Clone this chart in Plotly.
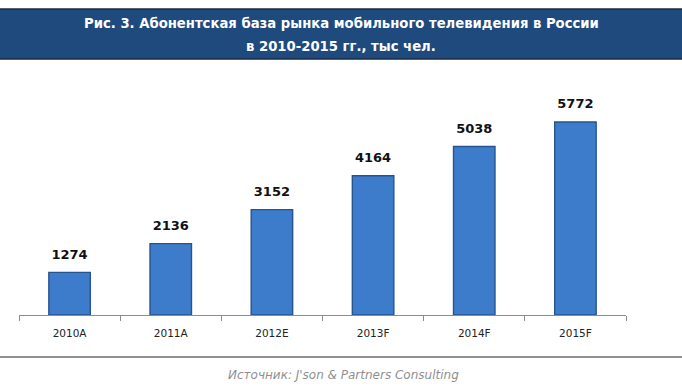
import plotly.graph_objects as go

categories = ["2010A", "2011A", "2012E", "2013F", "2014F", "2015F"]
values = [1274, 2136, 3152, 4164, 5038, 5772]
title_lines = ["Рис. 3. Абонентская база рынка мобильного телевидения в России",
               "в 2010-2015 гг., тыс чел."]
source_text = "Источник: J'son & Partners Consulting"

W, H = 682, 390
L, R, T, B = 19, 56, 100, 75
pw, ph = W - L - R, H - T - B

def px(x):
    return (x - L) / pw

def py(y):
    return (H - B - y) / ph

fig = go.Figure()
fig.add_trace(go.Bar(
    x=categories, y=values,
    marker=dict(color="#3D7CCB", line=dict(color="#25548F", width=1.4)),
    width=0.41, hoverinfo="skip",
))
fig.add_trace(go.Scatter(
    x=categories, y=values, mode="markers+text",
    marker=dict(size=15, opacity=0),
    text=[str(v) for v in values], textposition="top center",
    textfont=dict(family="DejaVu Sans", size=13, color="#111111", weight="bold"),
    cliponaxis=False, hoverinfo="skip",
))

shapes = [
    dict(type="rect", xref="paper", yref="paper", x0=px(0), x1=px(W), y0=py(59), y1=py(9),
         fillcolor="#1F4A7D", line=dict(width=0), layer="above"),
    dict(type="line", xref="paper", yref="paper", x0=px(0), x1=px(W), y0=py(9), y1=py(9),
         line=dict(color="#1a2b40", width=1.5)),
    dict(type="line", xref="paper", yref="paper", x0=px(0), x1=px(W), y0=py(59), y1=py(59),
         line=dict(color="#1a2b40", width=1.5)),
    dict(type="line", xref="paper", yref="paper", x0=px(0), x1=px(W), y0=py(357), y1=py(357),
         line=dict(color="#222222", width=1.2)),
]

title_font = dict(family="DejaVu Sans Condensed, Liberation Sans Narrow, Arial Narrow, sans-serif",
                  size=14.7, color="white")
annotations = [
    dict(xref="paper", yref="paper", x=px(341), y=py(22), text="<b>" + title_lines[0] + "</b>",
         showarrow=False, font=title_font, xanchor="center", yanchor="middle"),
    dict(xref="paper", yref="paper", x=px(341), y=py(45), text="<b>" + title_lines[1] + "</b>",
         showarrow=False, font=title_font, xanchor="center", yanchor="middle"),
    dict(xref="paper", yref="paper", x=px(344), y=py(375), text="<i>" + source_text + "</i>",
         showarrow=False, font=dict(family="DejaVu Sans", size=12, color="#8f8f8f"),
         xanchor="center", yanchor="middle"),
]

ymax = 5772 * ph / 193

fig.update_layout(
    width=W, height=H,
    margin=dict(l=L, r=R, t=T, b=B, pad=0),
    paper_bgcolor="white", plot_bgcolor="white",
    showlegend=False,
    shapes=shapes, annotations=annotations,
    xaxis=dict(showline=True, linecolor="#8c8c8c", linewidth=1, ticks="outside",
               tickson="boundaries", ticklen=5, tickcolor="#8c8c8c",
               ticklabelstandoff=8,
               tickfont=dict(family="DejaVu Sans", size=10.5, color="#222222"),
               showgrid=False, fixedrange=True),
    yaxis=dict(range=[0, ymax], visible=False, showgrid=False, fixedrange=True),
)

fig.write_html("out.html", config=dict(displayModeBar=False),
               post_script="document.body.style.margin='0';document.body.style.overflow='hidden';")
